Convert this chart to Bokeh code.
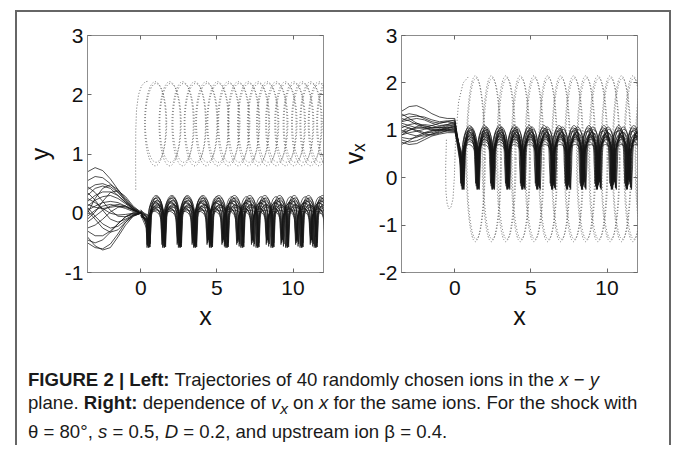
from bokeh.plotting import figure
from bokeh.models import ColumnDataSource, LinearAxis, FixedTicker, Div
from bokeh.layouts import column, row
from bokeh.embed import file_html
from bokeh.resources import INLINE

# ---------------- data ----------------
X_RANGE = (-3.5, 12)
Y_RANGE_L = (-1, 3)
Y_RANGE_R = (-2, 3)
X_TICKS = [0, 5, 10]
Y_TICKS_L = [-1, 0, 1, 2, 3]
Y_TICKS_R = [-2, -1, 0, 1, 2, 3]

# upstream part of the ion trajectories (x < 0)
UP_X = [-3.5, -3.0, -2.5, -2.0, -1.5, -1.0, -0.5, 0.0]
UP_Y = [
    [0.70, 0.77, 0.72, 0.58, 0.40, 0.22, 0.08, 0.00],
    [0.55, 0.62, 0.60, 0.50, 0.36, 0.20, 0.07, 0.00],
    [0.40, 0.48, 0.50, 0.45, 0.35, 0.22, 0.10, 0.02],
    [0.30, 0.42, 0.46, 0.42, 0.30, 0.18, 0.07, 0.00],
    [0.20, 0.30, 0.36, 0.36, 0.30, 0.18, 0.08, 0.00],
    [0.12, 0.22, 0.28, 0.30, 0.25, 0.16, 0.06, 0.00],
    [0.05, 0.12, 0.18, 0.20, 0.18, 0.12, 0.05, 0.00],
    [0.15, 0.10, 0.08, 0.10, 0.12, 0.10, 0.05, 0.00],
    [-0.05, 0.05, 0.12, 0.15, 0.12, 0.08, 0.03, 0.00],
    [0.25, 0.18, 0.08, 0.00, -0.03, -0.02, 0.00, 0.00],
    [0.35, 0.22, 0.05, -0.10, -0.15, -0.10, -0.03, 0.00],
    [-0.15, -0.05, 0.05, 0.12, 0.15, 0.12, 0.05, 0.00],
    [-0.25, -0.20, -0.10, 0.02, 0.10, 0.12, 0.06, 0.00],
    [0.10, -0.05, -0.18, -0.25, -0.22, -0.12, -0.04, 0.00],
    [-0.30, -0.38, -0.38, -0.30, -0.18, -0.06, 0.00, 0.00],
    [-0.45, -0.50, -0.45, -0.32, -0.18, -0.06, 0.01, 0.00],
    [-0.50, -0.58, -0.60, -0.52, -0.35, -0.15, -0.03, 0.00],
    [-0.40, -0.55, -0.62, -0.58, -0.40, -0.20, -0.05, 0.00],
    [0.05, -0.10, -0.25, -0.32, -0.28, -0.15, -0.05, 0.00],
    [0.45, 0.35, 0.20, 0.05, -0.05, -0.06, -0.02, 0.00],
    [-0.10, 0.02, 0.20, 0.35, 0.38, 0.28, 0.12, 0.02],
    [0.00, 0.25, 0.42, 0.48, 0.40, 0.25, 0.10, 0.00],
]
UP_VX = [
    [1.40, 1.50, 1.52, 1.45, 1.35, 1.28, 1.25, 1.25],
    [1.30, 1.35, 1.32, 1.25, 1.18, 1.15, 1.18, 1.22],
    [1.20, 1.28, 1.30, 1.28, 1.22, 1.18, 1.20, 1.20],
    [1.15, 1.10, 1.05, 1.05, 1.10, 1.15, 1.18, 1.15],
    [1.05, 1.12, 1.15, 1.10, 1.05, 1.05, 1.10, 1.12],
    [0.95, 1.00, 1.08, 1.12, 1.10, 1.05, 1.05, 1.08],
    [0.90, 0.95, 0.98, 1.02, 1.05, 1.06, 1.05, 1.05],
    [0.85, 0.82, 0.85, 0.92, 0.98, 1.02, 1.02, 1.00],
    [0.80, 0.75, 0.78, 0.85, 0.92, 0.96, 0.98, 0.98],
    [0.75, 0.70, 0.72, 0.80, 0.88, 0.92, 0.95, 0.95],
    [1.10, 1.05, 0.98, 0.92, 0.90, 0.94, 1.00, 1.05],
    [1.00, 0.92, 0.88, 0.88, 0.92, 0.98, 1.03, 1.08],
    [1.25, 1.20, 1.12, 1.05, 1.00, 1.00, 1.05, 1.10],
    [0.90, 1.00, 1.05, 1.05, 1.02, 1.00, 1.00, 1.02],
    [1.35, 1.25, 1.15, 1.08, 1.05, 1.08, 1.12, 1.15],
    [0.70, 0.78, 0.88, 0.95, 1.00, 1.02, 1.00, 0.98],
    [1.18, 1.22, 1.25, 1.22, 1.15, 1.10, 1.12, 1.18],
    [0.98, 1.05, 1.00, 0.95, 0.95, 1.00, 1.08, 1.12],
]

# downstream gyrating (transmitted) ions: cusp positions and levels
CUSPS_L = [
    [0.50, 1.52, 2.56, 3.56, 4.60, 5.64, 6.66, 7.66, 8.64, 9.60, 10.55, 11.48, 12.40],
    [0.52, 1.50, 2.50, 3.48, 4.46, 5.44, 6.41, 7.38, 8.35, 9.32, 10.28, 11.24, 12.20],
]
TOP_L = [0.30, 0.28, 0.25, 0.22, 0.20, 0.17, 0.15, 0.12, 0.10, 0.08, 0.05, 0.03, 0.26, 0.18, 0.13, 0.07, 0.21, 0.10]
FOOT_L = [-0.08, -0.12, -0.05, -0.15, -0.10, -0.03, -0.18, -0.08, -0.12, -0.20, -0.06, -0.15, -0.10, -0.22, -0.04, -0.12, -0.17, -0.25]
BOT_L = [-0.58, -0.56, -0.55, -0.52, -0.58, -0.48, -0.54, -0.45, -0.57, -0.50, -0.40, -0.53, -0.56, -0.44, -0.50, -0.35, -0.58, -0.47]
SHIFT_L = [0.00, 0.05, -0.05, 0.09, -0.09, 0.03, 0.07, -0.03, 0.11, -0.07, 0.02, -0.11, 0.06, -0.02, 0.10, -0.06, 0.04, -0.08]
GROUP_L = [0, 1, 0, 1, 0, 1, 0, 1, 0, 1, 0, 1, 0, 1, 0, 1, 0, 1]
START_L = [0.02, -0.02, 0.05, -0.05, 0.00, 0.03, -0.03, 0.06, -0.06, 0.01, -0.01, 0.04, -0.04, 0.02, 0.00, -0.02, 0.03, -0.03]

CUSPS_R = [
    [0.48, 1.46, 2.44, 3.42, 4.40, 5.38, 6.36, 7.34, 8.32, 9.30, 10.28, 11.26, 12.24],
    [0.52, 1.52, 2.52, 3.52, 4.52, 5.52, 6.52, 7.52, 8.52, 9.52, 10.52, 11.52, 12.52],
]
TOP_R = [1.10, 1.07, 1.05, 1.02, 0.98, 0.95, 0.92, 0.88, 0.85, 0.80, 0.76, 0.70, 1.04, 0.96, 0.90, 0.82, 1.00, 0.86]
FOOT_R = [0.35, 0.30, 0.42, 0.28, 0.38, 0.45, 0.25, 0.40, 0.32, 0.48, 0.36, 0.44, 0.22, 0.34, 0.46, 0.30, 0.40, 0.27]
BOT_R = [-0.25, -0.22, -0.18, -0.25, -0.12, -0.20, -0.24, -0.08, -0.15, 0.00, -0.22, -0.05, -0.25, -0.10, -0.18, 0.05, -0.23, -0.14]
SHIFT_R = [0.00, 0.05, -0.05, 0.09, -0.09, 0.03, 0.07, -0.03, 0.11, -0.07, 0.02, -0.11, 0.06, -0.02, 0.10, -0.06, 0.04, -0.08]
GROUP_R = [0, 1, 0, 1, 0, 1, 0, 1, 0, 1, 0, 1, 0, 1, 0, 1, 0, 1]
START_R = [1.25, 1.20, 1.15, 1.12, 1.10, 1.08, 1.05, 1.02, 1.00, 0.98, 1.18, 1.22, 1.06, 1.14, 1.03, 1.16, 1.09, 1.00]

# reflected ions: loop centres, loop tops and bottoms
LOOPS_L = [
    [0.95, 1.90, 2.75, 3.55, 4.30, 5.05, 5.75, 6.40, 7.05, 7.70, 8.30, 8.90, 9.50, 10.05, 10.60, 11.15, 11.70, 12.25],
    [1.00, 1.95, 2.81, 3.60, 4.36, 5.10, 5.81, 6.46, 7.11, 7.76, 8.36, 8.96, 9.56, 10.11, 10.66, 11.21, 11.76, 12.31],
]
LOOP_TOP_L = [2.22, 2.19]
LOOP_BOT_L = [0.80, 0.86]
LOOPS_R = [
    [1.35, 2.40, 3.35, 4.30, 5.20, 6.10, 6.95, 7.80, 8.60, 9.40, 10.20, 10.95, 11.70, 12.45],
    [1.40, 2.46, 3.42, 4.36, 5.26, 6.15, 7.00, 7.86, 8.66, 9.46, 10.25, 11.00, 11.76, 12.50],
]
LOOP_TOP_R = [2.15, 2.10]
LOOP_BOT_R = [-1.35, -1.30]
REFL_L_X = [-0.33, -0.34, -0.33, -0.28, -0.15, 0.05, 0.30, 0.55]
REFL_L_Y = [0.40, 0.90, 1.40, 1.75, 2.00, 2.15, 2.22, 2.23]
REFL_R_X = [-0.55, -0.60, -0.58, -0.50, -0.38, -0.25, -0.12, -0.03, 0.05, 0.25, 0.55, 0.95]
REFL_R_Y = [0.80, 0.20, -0.30, -0.55, -0.66, -0.62, -0.45, 0.00, 0.80, 1.60, 2.00, 2.15]

# ---------------- styling ----------------
INK = "#161616"
DOT = "#5a5a5a"
FRAME = "#8c8c8c"
FONT = "Liberation Sans"


def make_fig(width, y_range, y_ticks, ylabel, mbl, mbr):
    p = figure(width=width, height=320, x_range=X_RANGE, y_range=y_range,
               output_backend="svg", toolbar_location=None,
               min_border_left=mbl, min_border_right=mbr,
               min_border_top=23, min_border_bottom=60)
    p.xgrid.visible = False
    p.ygrid.visible = False
    p.outline_line_color = FRAME
    p.xaxis.ticker = FixedTicker(ticks=X_TICKS, minor_ticks=[])
    p.yaxis.ticker = FixedTicker(ticks=y_ticks, minor_ticks=[])
    p.yaxis.major_label_overrides = {t: str(t) for t in y_ticks}
    for ax in p.axis:
        ax.axis_line_color = FRAME
        ax.major_tick_in = 4
        ax.major_tick_out = 0
        ax.major_tick_line_color = "#666666"
        ax.minor_tick_line_color = None
        ax.major_label_text_font = FONT
        ax.major_label_text_font_size = "21px"
        ax.major_label_text_color = "#111111"
        ax.axis_label_text_font = FONT
        ax.axis_label_text_font_size = "25px"
        ax.axis_label_text_font_style = "normal"
        ax.axis_label_text_color = "#111111"
    p.xaxis.axis_label = "x"
    p.yaxis.axis_label = ylabel
    p.xaxis.major_label_standoff = 8
    p.xaxis.axis_label_standoff = 4
    p.yaxis.major_label_standoff = 4
    p.yaxis.axis_label_standoff = 8
    top = LinearAxis(ticker=FixedTicker(ticks=X_TICKS, minor_ticks=[]),
                     major_label_overrides={t: "" for t in X_TICKS},
                     axis_line_color=None, major_tick_in=4, major_tick_out=0,
                     major_tick_line_color="#666666", minor_tick_line_color=None,
                     major_label_standoff=0)
    p.add_layout(top, "above")
    right = LinearAxis(ticker=FixedTicker(ticks=y_ticks, minor_ticks=[]),
                       major_label_overrides={t: "" for t in y_ticks},
                       axis_line_color=None, major_tick_in=4, major_tick_out=0,
                       major_tick_line_color="#666666", minor_tick_line_color=None,
                       major_label_standoff=0)
    p.add_layout(right, "right")
    return p


def draw_upstream(p, rows):
    p.multi_line([UP_X] * len(rows), rows, line_color=INK, line_width=0.75)


def draw_core(p, cusp_sets, tops, feet, bots, shifts, groups, starts, half=0.07):
    arch = {k: [] for k in ("x0", "y0", "x1", "y1", "cx0", "cy0", "cx1", "cy1")}
    lx, ly = [], []
    for i in range(len(tops)):
        c = [v + shifts[i] for v in cusp_sets[groups[i]]]
        f, t, b = feet[i], tops[i], bots[i]
        lx.append([0.0, c[0] - half])
        ly.append([starts[i], f])
        lift = f + (t - f) * 4.0 / 3.0
        for j in range(len(c)):
            lx.append([c[j] - half, c[j], c[j] + half])
            ly.append([f, b, f])
            if j + 1 < len(c):
                a, e = c[j] + half, c[j + 1] - half
                arch["x0"].append(a); arch["y0"].append(f)
                arch["x1"].append(e); arch["y1"].append(f)
                arch["cx0"].append(a); arch["cy0"].append(lift)
                arch["cx1"].append(e); arch["cy1"].append(lift)
    p.bezier(x0="x0", y0="y0", x1="x1", y1="y1", cx0="cx0", cy0="cy0",
             cx1="cx1", cy1="cy1", source=ColumnDataSource(arch),
             line_color=INK, line_width=0.7)
    p.multi_line(lx, ly, line_color=INK, line_width=0.7)


def draw_loops(p, sets, tops, bots, width, rx, ry):
    for xs, t, b in zip(sets, tops, bots):
        p.ellipse(x=xs, y=(t + b) / 2.0, width=width, height=t - b,
                  fill_color=None, line_color=DOT, line_width=0.9, line_dash="1 2")
    p.line(rx, ry, line_color=DOT, line_width=0.9, line_dash="1 2")


pL = make_fig(316, Y_RANGE_L, Y_TICKS_L, "y", 70, 10)
draw_loops(pL, LOOPS_L, LOOP_TOP_L, LOOP_BOT_L, 1.4, REFL_L_X, REFL_L_Y)
draw_upstream(pL, UP_Y)
draw_core(pL, CUSPS_L, TOP_L, FOOT_L, BOT_L, SHIFT_L, GROUP_L, START_L)

pR = make_fig(336, Y_RANGE_R, Y_TICKS_R, "vₓ", 68, 32)
draw_loops(pR, LOOPS_R, LOOP_TOP_R, LOOP_BOT_R, 1.2, REFL_R_X, REFL_R_Y)
draw_upstream(pR, UP_VX)
draw_core(pR, CUSPS_R, TOP_R, FOOT_R, BOT_R, SHIFT_R, GROUP_R, START_R)

caption_html = (
    "<b>FIGURE 2 | Left:</b> Trajectories of 40 randomly chosen ions in the "
    "<i>x</i> &minus; <i>y</i><br>"
    "plane. <b>Right:</b> dependence of <i>v<sub>x</sub></i> on <i>x</i> for the same ions. "
    "For the shock with<br>"
    "&theta; = 80&deg;, <i>s</i> = 0.5, <i>D</i> = 0.2, and upstream ion &beta; = 0.4."
)
cap = Div(text=caption_html, width=641, height=77, margin=(36, 0, 0, 11),
          styles={"font-family": "'Liberation Sans', Arial, sans-serif",
                  "font-size": "18.6px", "line-height": "23px",
                  "color": "#1a1a1a", "white-space": "nowrap"})

layout = column(row(pL, pR), cap, margin=(10, 0, 0, 15),
                styles={"border-left": "2px solid #666666",
                        "border-top": "2px solid #666666",
                        "border-right": "2px solid #666666"})

open("out.html", "w").write(file_html(layout, INLINE))
